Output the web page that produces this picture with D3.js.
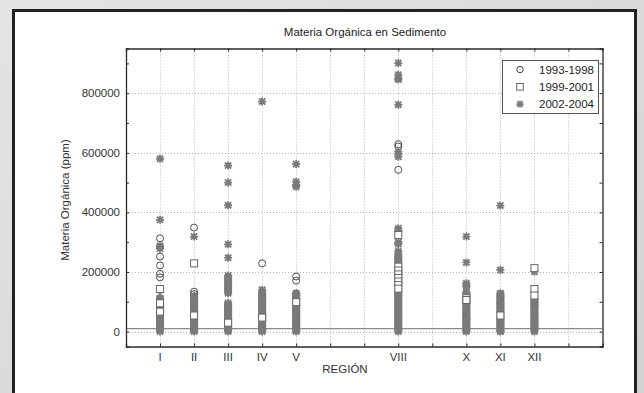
<!DOCTYPE html>
<html>
<head>
<meta charset="utf-8">
<script src="https://cdn.jsdelivr.net/npm/d3@7"></script>
<style>
  html, body { margin: 0; padding: 0; }
  body { width: 644px; height: 393px; overflow: hidden; background: #d9d9d9; }
  svg { display: block; font-family: 'Liberation Sans', Arial, sans-serif; }
</style>
</head>
<body>
<svg id="chart" width="644" height="393"></svg>
<script>
// regions on the x axis (position = index + 1), only sampled ones get a label
const regionLabels = ['I', 'II', 'III', 'IV', 'V', '', '', 'VIII', '', 'X', 'XI', 'XII', '']
const regionNames = ['I', 'II', 'III', 'IV', 'V', 'VI', 'VII', 'VIII', 'IX', 'X', 'XI', 'XII', 'XIII']
const yTicks = [0, 200000, 400000, 600000, 800000]
const seriesNames = ['1993-1998', '1999-2001', '2002-2004']
const refLine = 10000

// 1993-1998 (circles)
const serie1993 = [
  ['I', [313000, 285000, 252000, 222000, 194000, 182000, 140000, 112000, 60000, 12000]],
  ['II', [349000, 134000, 126000, 118000, 70000, 15000]],
  ['III', [85000, 40000, 6000]],
  ['IV', [229000, 112000, 55000, 12000]],
  ['V', [185000, 171000, 128000, 122000, 80000, 15000]],
  ['VIII', [629000, 621000, 543000, 246000, 238000, 120000, 40000]],
  ['X', [100000, 40000]],
  ['XI', [100000, 92000, 30000]],
  ['XII', [90000, 30000]]
]

// 1999-2001 (squares)
const serie1999 = [
  ['I', [143000, 95000, 67000]],
  ['II', [229000, 54000]],
  ['III', [30000]],
  ['IV', [47000]],
  ['V', [99000]],
  ['VIII', [324000, 218000, 205000, 192000, 180000, 168000, 156000, 144000]],
  ['X', [112000, 106000]],
  ['XI', [54000]],
  ['XII', [213000, 143000, 121000]]
]

// 2002-2004 (asterisks)
const serie2002 = [
  ['I', [580000, 375000, 288000, 278000, 112000, 108000, 104000, 100000, 96000, 92000, 88000, 84000, 80000, 76000,
    72000, 68000, 64000, 60000, 56000, 52000, 48000, 44000, 40000, 36000, 32000, 28000, 24000, 20000, 16000, 12000,
    8000, 4000, 0]],
  ['II', [319000, 120000, 116000, 112000, 108000, 103000, 99000, 95000, 91000, 87000, 83000, 79000, 75000, 71000,
    66000, 62000, 58000, 50000, 46000, 42000, 38000, 34000, 30000, 26000, 22000, 18000, 14000, 10000, 6000, 2000, 0]],
  ['III', [557000, 500000, 424000, 293000, 248000, 188000, 182000, 176000, 170000, 164000, 158000, 152000, 146000,
    140000, 134000, 129000, 96000, 92000, 88000, 84000, 80000, 76000, 72000, 68000, 64000, 60000, 56000, 52000,
    48000, 44000, 40000, 36000, 32000, 28000, 24000, 20000, 16000, 12000, 8000, 4000, 0]],
  ['IV', [772000, 140000, 134000, 129000, 124000, 120000, 116000, 112000, 108000, 104000, 100000, 96000, 92000,
    88000, 84000, 80000, 76000, 72000, 68000, 64000, 60000, 56000, 52000, 43000, 39000, 35000, 31000, 27000,
    23000, 19000, 15000, 11000, 7000, 3000, 0]],
  ['V', [562000, 503000, 492000, 486000, 128000, 124000, 120000, 116000, 112000, 108000, 104000, 95000, 91000,
    87000, 83000, 79000, 75000, 71000, 67000, 63000, 59000, 55000, 51000, 47000, 43000, 39000, 35000, 31000,
    27000, 23000, 19000, 15000, 11000, 7000, 3000, 0]],
  ['VIII', [901000, 862000, 850000, 846000, 761000, 604000, 595000, 587000, 347000, 340000, 336000, 300000, 294000,
    270000, 262000, 254000, 250000, 232000, 226000, 136000, 132000, 128000, 124000, 116000, 112000, 108000, 104000,
    100000, 96000, 92000, 88000, 84000, 80000, 76000, 72000, 68000, 64000, 60000, 56000, 52000, 48000, 44000,
    36000, 32000, 28000, 24000, 20000, 16000, 12000, 8000, 4000, 0]],
  ['X', [319000, 232000, 162000, 156000, 151000, 132000, 128000, 124000, 120000, 116000, 100000, 96000, 92000,
    88000, 84000, 80000, 76000, 72000, 68000, 64000, 60000, 56000, 52000, 48000, 44000, 40000, 36000, 32000,
    28000, 24000, 20000, 16000, 12000, 8000, 4000, 0]],
  ['XI', [423000, 207000, 129000, 125000, 121000, 117000, 113000, 109000, 105000, 96000, 92000, 88000, 84000,
    80000, 76000, 72000, 68000, 64000, 60000, 50000, 46000, 42000, 38000, 34000, 30000, 26000, 22000, 18000,
    14000, 10000, 6000, 2000, 0]],
  ['XII', [201000, 112000, 108000, 104000, 100000, 96000, 92000, 88000, 84000, 80000, 76000, 72000, 68000, 64000,
    60000, 56000, 52000, 48000, 44000, 40000, 36000, 32000, 28000, 24000, 20000, 16000, 12000, 8000, 4000, 0]]
]

const svg = d3.select('#chart')

const x = d3.scaleLinear().domain([0, 14]).range([126, 602.5])
const y = d3.scaleLinear().domain([-50000, 950000]).range([346.5, 48.5])

/**
 * Flattens [region, values] pairs into points.
 *
 * @param {Array} serie The series
 * @returns {object[]} points with region position and value
 */
function toPoints (serie) {
  const pts = []
  serie.forEach(([region, values]) => {
    const pos = regionNames.indexOf(region) + 1
    values.forEach((v) => pts.push({ pos: pos, value: v }))
  })
  return pts
}

/**
 * Path of the asterisk marker (+ and x).
 *
 * @param {number} r half size
 * @returns {string} the path
 */
function asteriskPath (r) {
  const d = r * 0.78
  return `M${-r},0H${r}M0,${-r}V${r}M${-d},${-d}L${d},${d}M${-d},${d}L${d},${-d}`
}

// background panel
const defs = svg.append('defs')
const grad = defs.append('linearGradient').attr('id', 'bg').attr('x1', 0).attr('y1', 0).attr('x2', 1).attr('y2', 1)
grad.append('stop').attr('offset', '0%').attr('stop-color', '#e4e4e4')
grad.append('stop').attr('offset', '100%').attr('stop-color', '#d2d2d2')
svg.append('rect').attr('width', 644).attr('height', 393).attr('fill', 'url(#bg)')
svg.append('rect')
  .attr('x', 13.5).attr('y', 10.5).attr('width', 622).attr('height', 400)
  .attr('fill', '#fff').attr('stroke', '#222').attr('stroke-width', 3)

// grid
const grid = svg.append('g').attr('stroke', '#b5b5b5').attr('stroke-dasharray', '1,2').attr('stroke-width', 1)
grid.selectAll('.vgrid')
  .data(d3.range(1, 14))
  .join('line')
  .attr('class', 'vgrid')
  .attr('x1', (d) => Math.round(x(d)) + 0.5).attr('x2', (d) => Math.round(x(d)) + 0.5)
  .attr('y1', y.range()[1]).attr('y2', y.range()[0])
grid.selectAll('.hgrid')
  .data(yTicks)
  .join('line')
  .attr('class', 'hgrid')
  .attr('x1', x.range()[0]).attr('x2', x.range()[1])
  .attr('y1', (d) => Math.round(y(d)) + 0.5).attr('y2', (d) => Math.round(y(d)) + 0.5)

// reference line
svg.append('line')
  .attr('x1', x.range()[0]).attr('x2', x.range()[1])
  .attr('y1', y(refLine)).attr('y2', y(refLine))
  .attr('stroke', '#8a8a8a').attr('stroke-width', 1.3)

// markers: circles below, asterisks, squares on top
svg.append('g')
  .selectAll('circle')
  .data(toPoints(serie1993))
  .join('circle')
  .attr('cx', (d) => x(d.pos))
  .attr('cy', (d) => y(d.value))
  .attr('r', 3.5)
  .attr('fill', 'none')
  .attr('stroke', '#3a3a3a')
  .attr('stroke-width', 0.9)

svg.append('g')
  .selectAll('path')
  .data(toPoints(serie2002))
  .join('path')
  .attr('transform', (d) => `translate(${x(d.pos)},${y(d.value)})`)
  .attr('d', asteriskPath(4))
  .attr('fill', 'none')
  .attr('stroke', '#7a7a7a')
  .attr('stroke-width', 1.8)

svg.append('g')
  .selectAll('rect')
  .data(toPoints(serie1999))
  .join('rect')
  .attr('x', (d) => x(d.pos) - 3.5)
  .attr('y', (d) => y(d.value) - 3.5)
  .attr('width', 7).attr('height', 7)
  .attr('fill', '#fff')
  .attr('stroke', '#666')
  .attr('stroke-width', 1)

// axes (frame + inward ticks)
const yAxisL = d3.axisLeft(y).tickValues(d3.range(0, 950000, 100000)).tickSize(-3).tickFormat('')
const yAxisR = d3.axisRight(y).tickValues(d3.range(0, 950000, 100000)).tickSize(-3).tickFormat('')
const xAxisB = d3.axisBottom(x).tickValues(d3.range(1, 14)).tickSize(-3).tickFormat('')
const xAxisT = d3.axisTop(x).tickValues(d3.range(1, 14)).tickSize(-3).tickFormat('')

const axes = [
  svg.append('g').attr('transform', `translate(${x.range()[0]},0)`).call(yAxisL),
  svg.append('g').attr('transform', `translate(${x.range()[1]},0)`).call(yAxisR),
  svg.append('g').attr('transform', `translate(0,${y.range()[0]})`).call(xAxisB),
  svg.append('g').attr('transform', `translate(0,${y.range()[1]})`).call(xAxisT)
]
axes.forEach((g) => {
  g.select('.domain').attr('stroke', '#2a2a2a').attr('stroke-width', 1.3)
  g.selectAll('.tick line').attr('stroke', '#2a2a2a')
})

// tick labels
svg.append('g')
  .selectAll('text')
  .data(yTicks)
  .join('text')
  .attr('x', 120)
  .attr('y', (d) => y(d))
  .attr('dy', '0.35em')
  .attr('text-anchor', 'end')
  .attr('font-size', 11.5)
  .attr('fill', '#333')
  .text((d) => d)

svg.append('g')
  .selectAll('text')
  .data(regionLabels)
  .join('text')
  .attr('x', (d, i) => x(i + 1))
  .attr('y', 361)
  .attr('text-anchor', 'middle')
  .attr('font-size', 11.5)
  .attr('fill', '#333')
  .text((d) => d)

// titles
svg.append('text')
  .attr('x', 365).attr('y', 36)
  .attr('text-anchor', 'middle').attr('font-size', 11.5).attr('fill', '#222')
  .text('Materia Orgánica en Sedimento')

svg.append('text')
  .attr('x', 345).attr('y', 373)
  .attr('text-anchor', 'middle').attr('font-size', 11.5).attr('fill', '#333')
  .text('REGIÓN')

svg.append('text')
  .attr('transform', 'translate(69,200) rotate(-90)')
  .attr('text-anchor', 'middle').attr('font-size', 11.5).attr('fill', '#333')
  .text('Materia Orgánica (ppm)')

// legend
const legend = svg.append('g')
legend.append('rect')
  .attr('x', 502.5).attr('y', 60.5).attr('width', 96).attr('height', 53)
  .attr('fill', '#fff').attr('stroke', '#555').attr('stroke-width', 1)
const rows = legend.selectAll('.row')
  .data(seriesNames)
  .join('g')
  .attr('class', 'row')
  .attr('transform', (d, i) => `translate(520,${69.5 + i * 17.3})`)
rows.filter((d, i) => i === 0).append('circle').attr('r', 3.2).attr('fill', 'none').attr('stroke', '#3a3a3a')
rows.filter((d, i) => i === 1).append('rect').attr('x', -3.3).attr('y', -3.3).attr('width', 6.6).attr('height', 6.6)
  .attr('fill', '#fff').attr('stroke', '#666')
rows.filter((d, i) => i === 2).append('path').attr('d', asteriskPath(3.6)).attr('stroke', '#7a7a7a').attr('stroke-width', 1.6)
rows.append('text')
  .attr('x', 19).attr('dy', '0.35em')
  .attr('font-size', 11.5).attr('fill', '#222')
  .text((d) => d)
</script>
</body>
</html>
